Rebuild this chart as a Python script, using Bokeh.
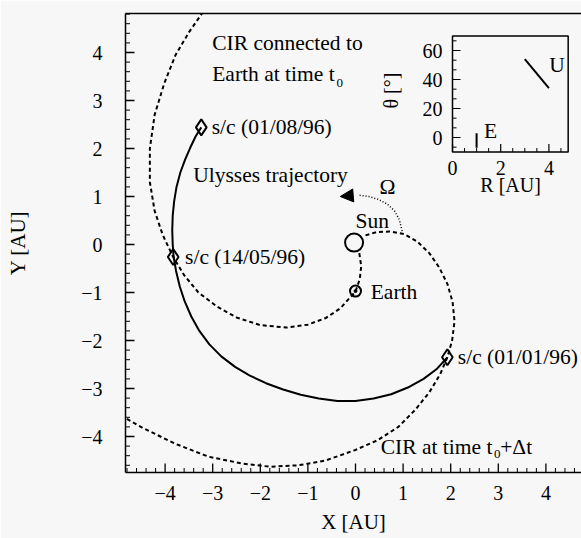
from bokeh.plotting import figure
from bokeh.models import Range1d, LinearAxis, SingleIntervalTicker, FixedTicker, Arrow, NormalHead
from bokeh.core.properties import value
from bokeh.embed import file_html
from bokeh.resources import INLINE

# ---------------- data ----------------
# Ulysses trajectory (ecliptic projection), AU
ulysses_x = [-3.24, -3.36, -3.47, -3.58, -3.68, -3.76, -3.81, -3.84, -3.85, -3.84, -3.82,
             -3.77, -3.69, -3.59, -3.45, -3.28, -3.07, -2.82, -2.53, -2.22, -1.88, -1.52,
             -1.15, -0.77, -0.38, 0.00, 0.38, 0.75, 1.10, 1.43, 1.70, 1.93]
ulysses_y = [2.44, 2.25, 2.02, 1.77, 1.50, 1.20, 0.90, 0.60, 0.30, 0.00, -0.26,
             -0.55, -0.88, -1.18, -1.50, -1.80, -2.08, -2.33, -2.55, -2.73, -2.89, -3.02,
             -3.13, -3.21, -3.26, -3.26, -3.21, -3.12, -2.98, -2.80, -2.60, -2.35]

# CIR connected to Earth at time t0 (spiral through Earth)
cir0_x = [0.08, 0.12, 0.09, 0.00, -0.32, -0.62, -1.00, -1.45, -2.00, -2.50, -2.90, -3.30,
          -3.60, -3.83, -4.05, -4.22, -4.32, -4.32, -4.22, -4.02, -3.78, -3.50, -3.20]
cir0_y = [-0.18, -0.45, -0.72, -0.98, -1.33, -1.53, -1.67, -1.73, -1.68, -1.52, -1.30, -1.00,
          -0.64, -0.26, 0.20, 0.70, 1.30, 2.00, 2.70, 3.35, 3.95, 4.42, 4.85]

# CIR at time t0 + dt
cir1_x = [0.21, 0.45, 0.72, 1.02, 1.30, 1.55, 1.76, 1.93, 2.04, 2.08, 2.03, 1.93, 1.78, 1.55,
          1.25, 0.90, 0.46, 0.00, -0.63, -1.20, -1.80, -2.40, -3.09, -3.79, -4.49, -4.95]
cir1_y = [0.19, 0.26, 0.27, 0.22, 0.06, -0.18, -0.48, -0.82, -1.20, -1.60, -2.00, -2.35, -2.70,
          -3.08, -3.45, -3.80, -4.08, -4.28, -4.50, -4.60, -4.63, -4.56, -4.42, -4.15, -3.81, -3.55]

# solar rotation arc (Omega)
omega_x = [0.98, 0.92, 0.82, 0.67, 0.48, 0.28, 0.05, -0.32]
omega_y = [0.28, 0.52, 0.70, 0.84, 0.94, 1.00, 1.03, 1.00]

# spacecraft positions
sc_x = [1.93, -3.83, -3.24]
sc_y = [-2.35, -0.26, 2.44]
sc_labels = ["s/c (01/01/96)", "s/c (14/05/96)", "s/c (01/08/96)"]

sun_x, sun_y = [-0.03], [0.04]
earth_x, earth_y = [0.0], [-0.97]

x_ticks = [-4, -3, -2, -1, 0, 1, 2, 3, 4]
y_ticks = [-4, -3, -2, -1, 0, 1, 2, 3, 4]

# inset: heliographic latitude vs distance
U_R = [3.0, 4.0]
U_theta = [54, 34]
E_R = [1.0, 1.0]
E_theta = [-7, 3]
inset_R_ticks = [0, 2, 4]
inset_R_minor = [0.5, 1.0, 1.5, 2.5, 3.0, 3.5, 4.5]
inset_th_ticks = [0, 20, 40, 60]
inset_th_minor = [-6.67, 6.67, 13.33, 26.67, 33.33, 46.67, 53.33, 66.67]
inset_R_box = [0, 4.8]
inset_th_box = [-10, 70]

# ---------------- geometry / style ----------------
FONT = "Liberation Serif"
BG = "#f7f7f7"
W, H = 581, 538
FL, FR, FT, FB = 125, 581, 13, 472         # frame edges in pixels
X0, PXX = 355.0, 47.6                      # x=0 pixel, px per AU
Y0, PXY = 244.0, 48.0
R0, PXR = 452.0, 24.1                      # inset R=0 pixel, px per AU
T0, PXT = 137.0, 1.45                      # inset theta=0 pixel, px per degree
TXT = "21.5px"

xr = Range1d((FL - X0) / PXX, (FR - X0) / PXX)
yr = Range1d((Y0 - FB) / PXY, (Y0 - FT) / PXY)
p = figure(width=W, height=H, x_range=xr, y_range=yr,
           output_backend="svg", toolbar_location=None,
           min_border_left=FL, min_border_right=0, min_border_top=FT,
           min_border_bottom=H - FB,
           background_fill_color=BG, border_fill_color=BG, outline_line_color=None)
p.grid.visible = False
p.extra_x_ranges = {"R": Range1d((FL - R0) / PXR, (FR - R0) / PXR)}
p.extra_y_ranges = {"th": Range1d((T0 - FB) / PXT, (T0 - FT) / PXT)}

for ax in (p.xaxis[0], p.yaxis[0]):
    ax.ticker = FixedTicker(ticks=x_ticks)
    ax.major_tick_in = 0
    ax.major_tick_out = 0
    ax.minor_tick_in = 0
    ax.minor_tick_out = 0
    ax.axis_line_width = 1.5
    ax.axis_line_color = "black"
    ax.major_label_text_font = FONT
    ax.major_label_text_font_size = "20px"
    ax.major_label_text_color = "black"
    ax.axis_label_text_font = FONT
    ax.axis_label_text_font_size = "21px"
    ax.axis_label_text_font_style = "normal"
    ax.axis_label_text_color = "black"
p.yaxis[0].ticker = FixedTicker(ticks=y_ticks)
p.xaxis.axis_label = "X [AU]"
p.yaxis.axis_label = "Y [AU]"
p.xaxis.major_label_standoff = 13
p.yaxis.major_label_standoff = 23
p.xaxis.axis_label_standoff = 7
p.yaxis.axis_label_standoff = 48

top = LinearAxis(ticker=FixedTicker(ticks=[]), major_label_text_font_size="0px",
                 axis_line_width=1.5, axis_line_color="black",
                 major_tick_in=0, major_tick_out=0, minor_tick_in=0, minor_tick_out=0,
                 major_label_standoff=0)
p.add_layout(top, "above")

# inward ticks on the main axes (major every 1 AU, minor every 0.2 AU)
xmin, xmax, ymin, ymax = xr.start, xr.end, yr.start, yr.end
minor_x = [k / 5 for k in range(int(xmin * 5), int(xmax * 5) + 1) if k % 5 != 0]
minor_y = [k / 5 for k in range(int(ymin * 5), int(ymax * 5) + 1) if k % 5 != 0]
p.segment(x0=x_ticks, x1=x_ticks, y0=[ymin] * len(x_ticks), y1=[ymin + 9 / PXY] * len(x_ticks),
          line_color="black", line_width=1.3)
p.segment(x0=minor_x, x1=minor_x, y0=[ymin] * len(minor_x), y1=[ymin + 4.5 / PXY] * len(minor_x),
          line_color="black", line_width=1)
p.segment(x0=[xmin] * len(y_ticks), x1=[xmin + 9 / PXX] * len(y_ticks), y0=y_ticks, y1=y_ticks,
          line_color="black", line_width=1.3)
p.segment(x0=[xmin] * len(minor_y), x1=[xmin + 4.5 / PXX] * len(minor_y), y0=minor_y, y1=minor_y,
          line_color="black", line_width=1)

# ---------------- main curves ----------------
p.line(cir0_x, cir0_y, line_color="black", line_width=2, line_dash="4 3")
p.line(cir1_x, cir1_y, line_color="black", line_width=2, line_dash="4 3")
p.line(ulysses_x, ulysses_y, line_color="black", line_width=2, line_join="round")
p.line(omega_x[:-1], omega_y[:-1], line_color="black", line_width=1.5, line_dash="1 2")
p.add_layout(Arrow(end=NormalHead(size=13, fill_color="black", line_color="black"),
                   x_start=omega_x[-2], y_start=omega_y[-2],
                   x_end=omega_x[-1], y_end=omega_y[-1], line_alpha=0))

p.scatter(sc_x, sc_y, marker="diamond", size=16, fill_alpha=0,
          line_color="black", line_width=2)
p.scatter(sun_x, sun_y, marker="circle", size=18, fill_alpha=0, line_color="black", line_width=2)
p.scatter(earth_x, earth_y, marker="circle", size=11, fill_alpha=0, line_color="black", line_width=2)
p.scatter(earth_x, earth_y, marker="circle", size=3, fill_color="black", line_color="black")

def txt(x, y, s, size=TXT, align="left", **kw):
    p.text(x=x, y=y, text=s, text_font=value(FONT), text_font_size=size,
           text_align=align, text_baseline="middle", text_color="black", **kw)

# spacecraft labels, placed to the right of the markers
txt([sc_x[0] + 0.22, sc_x[1] + 0.25, sc_x[2] + 0.22], sc_y, sc_labels)
txt([-3.01], [4.19], ["CIR connected to"])
txt([-3.01], [3.56], ["Earth at time t"])
txt([-0.40], [3.36], ["0"], size="13px")
txt([-3.41], [1.44], ["Ulysses trajectory"])
txt([0.0], [0.49], ["Sun"])
txt([earth_x[0] + 0.32], [earth_y[0] - 0.02], ["Earth"])
txt([0.67], [1.19], ["Ω"], align="center")
txt([0.53], [-4.22], ["CIR at time t"])
txt([2.91], [-4.36], ["0"], size="13px")
txt([3.04], [-4.22], ["+Δt"])

# ---------------- inset ----------------
ik = dict(x_range_name="R", y_range_name="th")
p.quad(left=[inset_R_box[0]], right=[inset_R_box[1]], bottom=[inset_th_box[0]], top=[inset_th_box[1]],
       fill_alpha=0, line_color="black", line_width=1.5, **ik)
p.segment(x0=[inset_R_box[0]] * len(inset_th_ticks), x1=[inset_R_box[0] + 8 / PXR] * len(inset_th_ticks),
          y0=inset_th_ticks, y1=inset_th_ticks, line_color="black", line_width=1.2, **ik)
p.segment(x0=[inset_R_box[0]] * len(inset_th_minor), x1=[inset_R_box[0] + 4 / PXR] * len(inset_th_minor),
          y0=inset_th_minor, y1=inset_th_minor, line_color="black", line_width=1, **ik)
p.segment(x0=inset_R_ticks, x1=inset_R_ticks, y0=[inset_th_box[0]] * len(inset_R_ticks),
          y1=[inset_th_box[0] + 8 / PXT] * len(inset_R_ticks), line_color="black", line_width=1.2, **ik)
p.segment(x0=inset_R_minor, x1=inset_R_minor, y0=[inset_th_box[0]] * len(inset_R_minor),
          y1=[inset_th_box[0] + 4 / PXT] * len(inset_R_minor), line_color="black", line_width=1, **ik)
p.line(U_R, U_theta, line_color="black", line_width=2, **ik)
p.line(E_R, E_theta, line_color="black", line_width=2, **ik)

p.text(x=[-10 / PXR] * len(inset_th_ticks), y=inset_th_ticks, text=[str(t) for t in inset_th_ticks],
       text_font=value(FONT), text_font_size="20px", text_align="right", text_baseline="middle", **ik)
p.text(x=inset_R_ticks, y=[-20.7] * len(inset_R_ticks),
       text=[str(t) for t in inset_R_ticks],
       text_font=value(FONT), text_font_size="20px", text_align="center", text_baseline="middle", **ik)
p.text(x=[2.41], y=[-33.1], text=["R [AU]"], text_font=value(FONT), text_font_size="20px",
       text_align="center", text_baseline="middle", **ik)
p.text(x=[-2.57], y=[32.4], text=["θ [°]"], text_font=value(FONT), text_font_size="20px",
       text_align="center", text_baseline="middle", angle=1.5708, **ik)
p.text(x=[4.34], y=[49.7], text=["U"], text_font=value(FONT), text_font_size=TXT,
       text_align="center", text_baseline="middle", **ik)
p.text(x=[1.58], y=[4.8], text=["E"], text_font=value(FONT), text_font_size=TXT,
       text_align="center", text_baseline="middle", **ik)

open("out.html", "w").write(file_html(p, INLINE))
